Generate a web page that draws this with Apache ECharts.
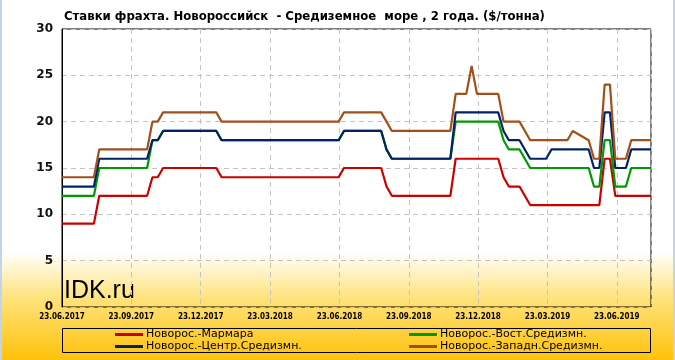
<!DOCTYPE html>
<html>
<head>
<meta charset="utf-8">
<script src="https://cdn.jsdelivr.net/npm/echarts@6/dist/echarts.min.js"></script>
<style>
html,body{margin:0;padding:0;background:#fff;}
#chart{width:675px;height:360px;background:linear-gradient(to bottom,#ffffff 0%,#ffffff 70%,#ffe27a 83%,#ffc20a 100%);}
</style>
</head>
<body>
<div id="chart"></div>
<script>
// ---- data ----
const titleText = 'Ставки фрахта. Новороссийск  - Средиземное  море , 2 года. ($/тонна)';
const startDate = '23.06.2017';
const tickLabels = ['23.06.2017','23.09.2017','23.12.2017','23.03.2018','23.06.2018','23.09.2018','23.12.2018','23.03.2019','23.06.2019'];
const seriesNames = ['Новорос.-Мармара','Новорос.-Вост.Средизмн.','Новорос.-Центр.Средизмн.','Новорос.-Западн.Средизмн.'];
const dates = ['23.06.2017','04.08.2017','11.08.2017','13.10.2017','20.10.2017','27.10.2017','03.11.2017','12.01.2018','19.01.2018',
  '22.06.2018','29.06.2018','17.08.2018','24.08.2018','31.08.2018','16.11.2018','23.11.2018','07.12.2018','14.12.2018','21.12.2018',
  '18.01.2019','25.01.2019','01.02.2019','15.02.2019','01.03.2019','22.03.2019','29.03.2019','19.04.2019','26.04.2019',
  '17.05.2019','24.05.2019','31.05.2019','07.06.2019','14.06.2019','21.06.2019','05.07.2019','12.07.2019','07.08.2019'];
const marmara = [9,9,12,12,14,14,15,15,14, 14,15,15,13,12,12,16,16,16,16, 16,14,13,13,11,11,11,11,11, 11,11,11,16,16,12,12,12,12];
const vost    = [12,12,15,15,18,18,19,19,18, 18,19,19,17,16,16,20,20,20,20, 20,18,17,17,15,15,15,15,15, 15,13,13,18,18,13,13,15,15];
const centr   = [13,13,16,16,18,18,19,19,18, 18,19,19,17,16,16,21,21,21,21, 21,19,18,18,16,16,17,17,17, 17,15,15,21,21,15,15,17,17];
const zapad   = [14,14,17,17,20,20,21,21,20, 20,21,21,20,19,19,23,23,26,23, 23,20,20,20,18,18,18,18,19, 18,16,16,24,24,16,16,18,18];
const colors = ['#cc0000','#009900','#002366','#a0501a'];

// ---- build ----
function toDay(s){const p=s.split('.');return Date.UTC(+p[2],+p[1]-1,+p[0]);}
const t0 = toDay(startDate);
const days = dates.map(d => Math.round((toDay(d)-t0)/86400000));
const step = 730/8;
const lastDay = days[days.length-1];
const valuesList = [marmara, vost, centr, zapad];

const chart = echarts.init(document.getElementById('chart'), null, {renderer:'canvas'});
const series = [0,1,2,3].map(i => ({
  name: seriesNames[i], type:'line', symbol:'none', animation:false,
  lineStyle:{width:2.2,color:colors[i]}, itemStyle:{color:colors[i]},
  data: days.map((d,k)=>[d, valuesList[i][k]])
}));

const legendCommon = {orient:'vertical', top:328.5, itemWidth:28, itemHeight:3, icon:'rect', itemGap:0, padding:0,
  textStyle:{fontFamily:'DejaVu Sans', fontSize:11, color:'#000', lineHeight:12, padding:[0,0,0,-2]}, selectedMode:false};

chart.setOption({
  backgroundColor:'transparent',
  animation:false,
  title:{text:titleText, left:64, top:10, padding:0,
    textStyle:{fontFamily:'DejaVu Sans Condensed', fontWeight:'bold', fontSize:13, color:'#000'}},
  grid:{left:62, right:24, top:29, bottom:53, show:true, borderColor:'#000', borderWidth:1, backgroundColor:'transparent'},
  legend:[
    Object.assign({left:115, data:[seriesNames[0], seriesNames[2]]}, legendCommon),
    Object.assign({left:409, data:[seriesNames[1], seriesNames[3]]}, legendCommon)
  ],
  xAxis:{type:'value', min:0, max:lastDay, interval:step,
    axisLine:{show:false}, axisTick:{show:false},
    axisLabel:{margin:6, fontFamily:'DejaVu Sans Condensed', fontWeight:'bold', fontSize:8, color:'#000',
      formatter:function(v){const k=v/step; const r=Math.round(k); if(Math.abs(k-r)>0.01) return ''; return tickLabels[r]||'';}},
    splitLine:{show:true, lineStyle:{color:'#c4c4c4', type:[5,4], width:1}}
  },
  yAxis:{type:'value', min:0, max:30, interval:5,
    axisLine:{show:true, lineStyle:{color:'#000'}}, axisTick:{show:false},
    axisLabel:{margin:9, fontFamily:'DejaVu Sans', fontWeight:'bold', fontSize:12, color:'#111'},
    splitLine:{show:true, lineStyle:{color:'#c4c4c4', type:[5,4], width:1}}
  },
  graphic:[
    {type:'rect', shape:{x:62.5, y:328.5, width:588, height:24}, style:{fill:'none', stroke:'#000', lineWidth:1}, silent:true},
    {type:'rect', shape:{x:0, y:0, width:2, height:360}, style:{fill:'#c3d3e8'}, silent:true},
    {type:'rect', shape:{x:673, y:0, width:2, height:360}, style:{fill:'#c3d3e8'}, silent:true},
    {type:'text', left:64, top:279, style:{text:'IDK.ru', font:'normal 25px "Liberation Sans"', fill:'#000'}, silent:true}
  ],
  series: series
});
</script>
</body>
</html>
